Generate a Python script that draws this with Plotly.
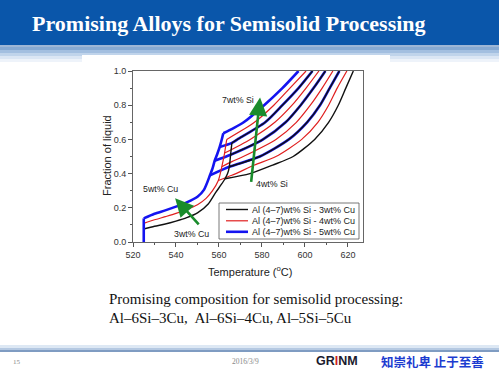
import plotly.graph_objects as go

# ---------------- data ----------------
cu_levels = [3, 4, 5]
si_levels = [4, 5, 6, 7]
solidus_temp = 525
x_ticks = [520, 540, 560, 580, 600, 620]
y_ticks = [0.0, 0.2, 0.4, 0.6, 0.8, 1.0]

legend_labels = {
    3: "Al (4–7)wt% Si - 3wt% Cu",
    4: "Al (4–7)wt% Si - 4wt% Cu",
    5: "Al (4–7)wt% Si - 5wt% Cu",
}

# shared lower branch (solidus -> eutectic rise) for each Cu level
low_T_3 = [525, 530, 535, 540, 545, 550, 555, 558.5, 561, 562.8, 564.0, 564.8, 565.4, 566.0]
low_F_3 = [0.076, 0.092, 0.105, 0.122, 0.142, 0.17, 0.222, 0.29, 0.335, 0.37, 0.40, 0.44, 0.51, 0.58]
low_T_4 = [525, 530, 535, 540, 545, 550, 554, 557, 559.7, 560.6, 561.3, 562.0, 562.6, 563.6]
low_F_4 = [0.109, 0.13, 0.148, 0.167, 0.19, 0.218, 0.255, 0.30, 0.36, 0.40, 0.44, 0.48, 0.52, 0.60]
low_T_5 = [525, 530, 535, 540, 545, 550, 553, 555.8, 557.0, 558.0, 559.2, 560.3, 561.2, 562.0]
low_F_5 = [0.138, 0.165, 0.185, 0.207, 0.232, 0.265, 0.305, 0.39, 0.43, 0.475, 0.515, 0.555, 0.595, 0.636]

# fraction at which each Si level leaves the eutectic rise (Si = 4,5,6,7)
kink_F_3 = [0.37, 0.44, 0.51, 0.58]
kink_F_4 = [0.36, 0.44, 0.52, 0.60]
kink_F_5 = [0.39, 0.475, 0.555, 0.636]

# upper (primary) branches, visible lines 0..8 from left to right
up_T_0 = [566.6, 571.5, 581, 589.5, 597]
up_F_0 = [0.665, 0.70, 0.80, 0.90, 1.0]
up_T_1 = [576.5, 585.5, 593, 600.5]
up_F_1 = [0.70, 0.80, 0.90, 1.0]
up_T_2 = [566, 568.6, 581.5, 589.5, 597, 603.5]
up_F_2 = [0.58, 0.60, 0.70, 0.80, 0.90, 1.0]
up_T_3 = [574.5, 586, 594, 600.5, 606.5]
up_F_3 = [0.60, 0.70, 0.80, 0.90, 1.0]
up_T_4 = [565.4, 580.5, 591, 598, 604, 609.5]
up_F_4 = [0.51, 0.60, 0.70, 0.80, 0.90, 1.0]
up_T_5 = [566, 571.3, 586.5, 596, 602.5, 608, 613]
up_F_5 = [0.47, 0.50, 0.60, 0.70, 0.80, 0.90, 1.0]
up_T_6 = [564.8, 579, 592.5, 601, 607, 611.5, 616]
up_F_6 = [0.44, 0.50, 0.60, 0.70, 0.80, 0.90, 1.0]
up_T_7 = [566, 576.5, 586.5, 598.5, 606, 611, 615, 619.5]
up_F_7 = [0.39, 0.45, 0.50, 0.60, 0.70, 0.80, 0.90, 1.0]
up_T_8 = [574.4, 585, 594.5, 604.5, 611, 615.5, 619, 622.5]
up_F_8 = [0.40, 0.45, 0.50, 0.60, 0.70, 0.80, 0.90, 1.0]

# ---------------- assembly ----------------
low_T = {3: low_T_3, 4: low_T_4, 5: low_T_5}
low_F = {3: low_F_3, 4: low_F_4, 5: low_F_5}
kink_F = {3: kink_F_3, 4: kink_F_4, 5: kink_F_5}
up_T = [up_T_0, up_T_1, up_T_2, up_T_3, up_T_4, up_T_5, up_T_6, up_T_7, up_T_8]
up_F = [up_F_0, up_F_1, up_F_2, up_F_3, up_F_4, up_F_5, up_F_6, up_F_7, up_F_8]

colors = {3: "#111111", 4: "#e01e1e", 5: "#1414f0"}
widths = {3: 1.4, 4: 1.2, 5: 2.6}

fig = go.Figure()

for cu in [5, 4, 3]:
    col, w = colors[cu], widths[cu]
    fig.add_trace(go.Scatter(x=low_T[cu], y=low_F[cu], mode="lines",
                             line=dict(color=col, width=w, shape="spline", smoothing=0.7),
                             name=legend_labels[cu], showlegend=False, hoverinfo="skip"))
    for i, si in enumerate(si_levels):
        kf = kink_F[cu][i]
        idx = low_F[cu].index(kf)
        kt = low_T[cu][idx]
        k = 2 * (7 - si) + (5 - cu)
        xs = [kt] + [t for t in up_T[k] if t > kt]
        ys = [kf] + [f for t, f in zip(up_T[k], up_F[k]) if t > kt]
        fig.add_trace(go.Scatter(x=xs, y=ys, mode="lines",
                                 line=dict(color=col, width=w, shape="spline", smoothing=0.7),
                                 showlegend=False, hoverinfo="skip"))

for cu in [3, 4, 5]:
    fig.add_trace(go.Scatter(x=[solidus_temp, solidus_temp], y=[0, low_F[cu][0]], mode="lines",
                             line=dict(color=colors[cu], width=widths[cu]),
                             showlegend=False, hoverinfo="skip"))

# ---------------- layout helpers (pixel -> paper) ----------------
L, R, T, B = 133, 363, 71, 242


def px(x):
    return (x - L) / (R - L)


def py(y):
    return (B - y) / (B - T)


shapes = []


def rect(x0, y0, x1, y1, fill, line_color=None, lw=0):
    shapes.append(dict(type="rect", xref="paper", yref="paper",
                       x0=px(x0), x1=px(x1), y0=py(y0), y1=py(y1),
                       fillcolor=fill, line=dict(color=line_color or fill, width=lw)))


# title bar and gradient band
rect(-2, -2, 501, 45, "#0a56aa")
band = [(45, 47, "#9db6d6"), (47, 50, "#86a9d2"), (50, 53, "#a3bfe0"), (53, 56, "#c0d4eb"),
        (56, 59, "#dbe6f4"), (59, 62, "#eef3fa")]
for y0, y1, c in band:
    rect(-2, y0, 501, y1, c)
rect(82, 55, 390, 63, "#ffffff")
# footer band
rect(-2, 345, 501, 348, "#dde8f4")
rect(-2, 348, 501, 350, "#b5c9e2")
rect(-2, 350, 501, 352, "#7f9cc2")

# manual legend
rect(219, 203, 359, 239, "#ffffff", "#555555", 0.8)
rows = {3: 209.5, 4: 220.8, 5: 231.8}
for cu in [3, 4, 5]:
    shapes.append(dict(type="line", xref="paper", yref="paper",
                       x0=px(226), x1=px(248), y0=py(rows[cu]), y1=py(rows[cu]),
                       line=dict(color=colors[cu], width=widths[cu])))

ann = []


def text(x, y, s, size, color="#222222", family="Liberation Sans", xanchor="center",
         yanchor="middle", angle=0):
    ann.append(dict(xref="paper", yref="paper", x=px(x), y=py(y), text=s, showarrow=False,
                    font=dict(size=size, color=color, family=family),
                    xanchor=xanchor, yanchor=yanchor, textangle=angle))


text(30, 24, "<b>Promising Alloys for Semisolid Processing</b>", 22, "#ffffff",
     "Liberation Serif", xanchor="left")
text(107, 299, "Promising composition for semisolid processing:", 15, "#111111",
     "Liberation Serif", xanchor="left")
text(107, 318, "Al–6Si–3Cu,\u00a0 Al–6Si–4Cu, Al–5Si–5Cu", 15, "#111111",
     "Liberation Serif", xanchor="left")
text(17, 362, "15", 7, "#888888", "Liberation Serif")
text(245, 361, "2016/3/9", 7.5, "#888888", "Liberation Serif")
text(337, 361, "<b>GR<span style='color:#d02020'>I</span>NM</b>", 12.5, "#1a1a2e")
text(432, 361, "<b>知崇礼卑 止于至善</b>", 12.5, "#1c3cd0", "Noto Sans CJK SC")

text(107, 156, "Fraction of liquid", 11, "#222222", angle=-90)
text(250, 271, "Temperature (<sup>o</sup>C)", 11, "#222222")

text(238, 100, "7wt% Si", 8.8)
text(272, 184, "4wt% Si", 8.8)
text(160, 189, "5wt% Cu", 8.8)
text(191, 234, "3wt% Cu", 8.8)

for cu in [3, 4, 5]:
    text(250, rows[cu], legend_labels[cu], 9, "#222222", xanchor="left")

# green arrows (data coordinates)
arrow_si_head = (579.1, 0.845)
arrow_si_tail = (574.9, 0.343)
arrow_cu_head = (539.6, 0.256)
arrow_cu_tail = (551.2, 0.094)
for head, tail in [(arrow_si_head, arrow_si_tail), (arrow_cu_head, arrow_cu_tail)]:
    ann.append(dict(x=head[0], y=head[1], ax=tail[0], ay=tail[1], xref="x", yref="y",
                    axref="x", ayref="y", text="", showarrow=True, arrowhead=2,
                    arrowsize=1.4, arrowwidth=2.6, arrowcolor="#1a8c2c", standoff=0))

axis_common = dict(ticks="outside", ticklen=4, tickwidth=1, tickcolor="#555555",
                   showline=True, linecolor="#666666", linewidth=1, mirror=True,
                   showgrid=False, zeroline=False,
                   tickfont=dict(size=9, color="#333333", family="Liberation Sans"))

fig.update_layout(
    width=499, height=374, autosize=False,
    margin=dict(l=L, r=499 - R, t=T, b=374 - B, pad=0),
    paper_bgcolor="#ffffff", plot_bgcolor="#ffffff",
    showlegend=False,
    xaxis=dict(range=[520, 627], tickvals=x_ticks,
               minor=dict(ticks="outside", ticklen=2, dtick=10, tick0=520, tickcolor="#555555"),
               **axis_common),
    yaxis=dict(range=[0, 1], tickvals=y_ticks, tickformat=".1f",
               minor=dict(ticks="outside", ticklen=2, dtick=0.1, tick0=0, tickcolor="#555555"),
               **axis_common),
    shapes=shapes, annotations=ann,
)

fig.write_html("out.html", config={"displayModeBar": False},
               post_script="document.body.style.margin='0px';document.body.style.overflow='hidden';")
